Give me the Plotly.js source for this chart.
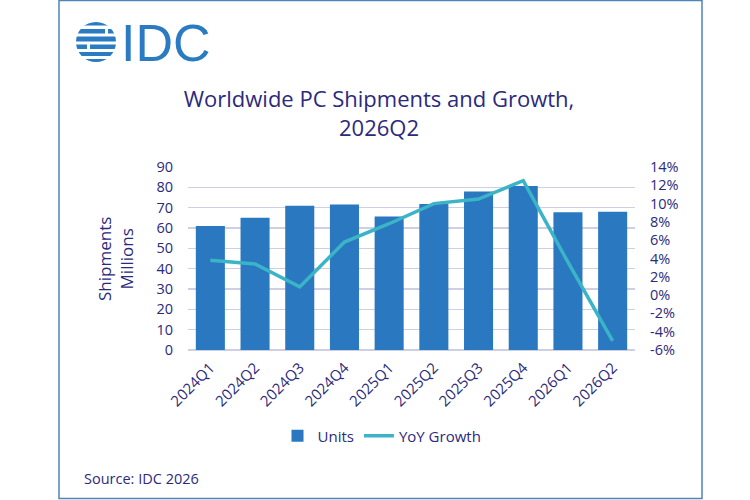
<!DOCTYPE html>
<html>
<head>
<meta charset="utf-8">
<script src="https://cdn.plot.ly/plotly-3.0.1.min.js"></script>
<style>html,body{margin:0;padding:0;background:#fff;}#chart{width:750px;height:500px;}</style>
</head>
<body>
<div id="chart"></div>
<script>
var quarters = ["2024Q1","2024Q2","2024Q3","2024Q4","2025Q1","2025Q2","2025Q3","2025Q4","2026Q1","2026Q2"];
var units = [61.0, 65.1, 71.0, 71.5, 65.6, 71.8, 78.0, 80.7, 67.7, 68.0];
var yoyGrowth = [3.8, 3.4, 0.9, 5.8, 7.8, 10.0, 10.5, 12.5, 3.6, -5.0];
var leftTicks = [0,10,20,30,40,50,60,70,80,90];
var rightTicks = [-6,-4,-2,0,2,4,6,8,10,12,14];

var W = 750, H = 500;
var M = {l:188, r:115, t:167, b:150};
var PW = W - M.l - M.r, PH = H - M.t - M.b;
function px(x){ return (x - M.l) / PW; }
function py(y){ return (H - M.b - y) / PH; }

var navy = "#2b2a7c";
var font = "Open Sans, Noto Sans, sans-serif";

var globe = '<svg xmlns="http://www.w3.org/2000/svg" viewBox="0 0 42 40">' +
  '<defs><clipPath id="c"><circle cx="21" cy="20" r="20"/></clipPath></defs>' +
  '<g clip-path="url(#c)" fill="#2a7bc1">' +
  '<rect x="0" y="0" width="42" height="3.5"/>' +
  '<rect x="0" y="7" width="30" height="4.5"/><rect x="33" y="7" width="9" height="4.5"/>' +
  '<rect x="0" y="14.5" width="42" height="5"/>' +
  '<rect x="0" y="22.5" width="12" height="4.5"/><rect x="15" y="22.5" width="27" height="4.5"/>' +
  '<rect x="0" y="30" width="42" height="4"/>' +
  '<rect x="0" y="37" width="42" height="3"/>' +
  '</g></svg>';

var data = [
  {type:"bar", name:"Units", x:quarters, y:units, marker:{color:"#2a78c0"}, yaxis:"y"},
  {type:"scatter", mode:"lines", name:"YoY Growth", x:quarters, y:yoyGrowth, yaxis:"y2",
   line:{color:"#3ab4c6", width:3.5}}
];

var layout = {
  width:W, height:H,
  margin:{l:M.l, r:M.r, t:M.t, b:M.b, pad:0},
  paper_bgcolor:"#fff", plot_bgcolor:"#fff",
  font:{family:font, color:navy, size:14},
  title:{text:"Worldwide PC Shipments and Growth,<br>2026Q2", x:px(379), xanchor:"center", xref:"paper",
         y:1-107/H, yanchor:"top", font:{family:font, size:22, color:navy}},
  bargap:0.35,
  showlegend:true,
  legend:{orientation:"h", x:px(382), xanchor:"center", y:py(436), yanchor:"middle",
          font:{family:font, size:15, color:navy}, bgcolor:"rgba(0,0,0,0)", traceorder:"normal"},
  xaxis:{type:"category", tickangle:-45, tickfont:{family:font, size:15, color:navy},
         showgrid:false, showline:false, ticks:"", ticklabelstandoff:5, fixedrange:true},
  yaxis:{range:[0,90], tickvals:leftTicks, ticktext:leftTicks.map(String), showgrid:true,
         gridcolor:"#cfcfe4", gridwidth:1.5, zeroline:true, zerolinecolor:"#cfcfe4", zerolinewidth:1.5,
         showline:false, ticks:"", ticklabelstandoff:14, tickfont:{family:font, size:14.5, color:navy}},
  yaxis2:{range:[-6,14], overlaying:"y", side:"right", tickvals:rightTicks,
          ticktext:rightTicks.map(function(v){return v+"%";}), showgrid:false, zeroline:false,
          showline:false, ticks:"", ticklabelstandoff:14, tickfont:{family:font, size:14.5, color:navy}},
  annotations:[
    {text:"Shipments<br>Millions", textangle:-90, xref:"paper", yref:"paper", x:px(115), y:py(259),
     xanchor:"center", yanchor:"middle", showarrow:false, font:{family:font, size:17, color:navy}},
    {text:"Source: IDC 2026", xref:"paper", yref:"paper", x:px(82), y:py(478), xanchor:"left", yanchor:"middle",
     showarrow:false, font:{family:font, size:14.5, color:navy}},
    {text:"IDC", xref:"paper", yref:"paper", x:px(119), y:py(43), xanchor:"left", yanchor:"middle",
     showarrow:false, font:{family:"Liberation Sans, Arial, sans-serif", size:52, color:"#2a7bc1"}}
  ],
  images:[
    {source:"data:image/svg+xml;charset=utf-8," + encodeURIComponent(globe), xref:"paper", yref:"paper",
     x:px(75), y:py(22), sizex:42/PW, sizey:40/PH, xanchor:"left", yanchor:"top", sizing:"stretch", layer:"above"}
  ],
  shapes:[
    {type:"rect", xref:"paper", yref:"paper", x0:px(59), x1:px(702), y0:py(0.5), y1:py(498.5),
     line:{color:"#4d86b6", width:1.5}, fillcolor:"rgba(0,0,0,0)"}
  ]
};

Plotly.newPlot("chart", data, layout, {staticPlot:true, displayModeBar:false});
</script>
</body>
</html>
